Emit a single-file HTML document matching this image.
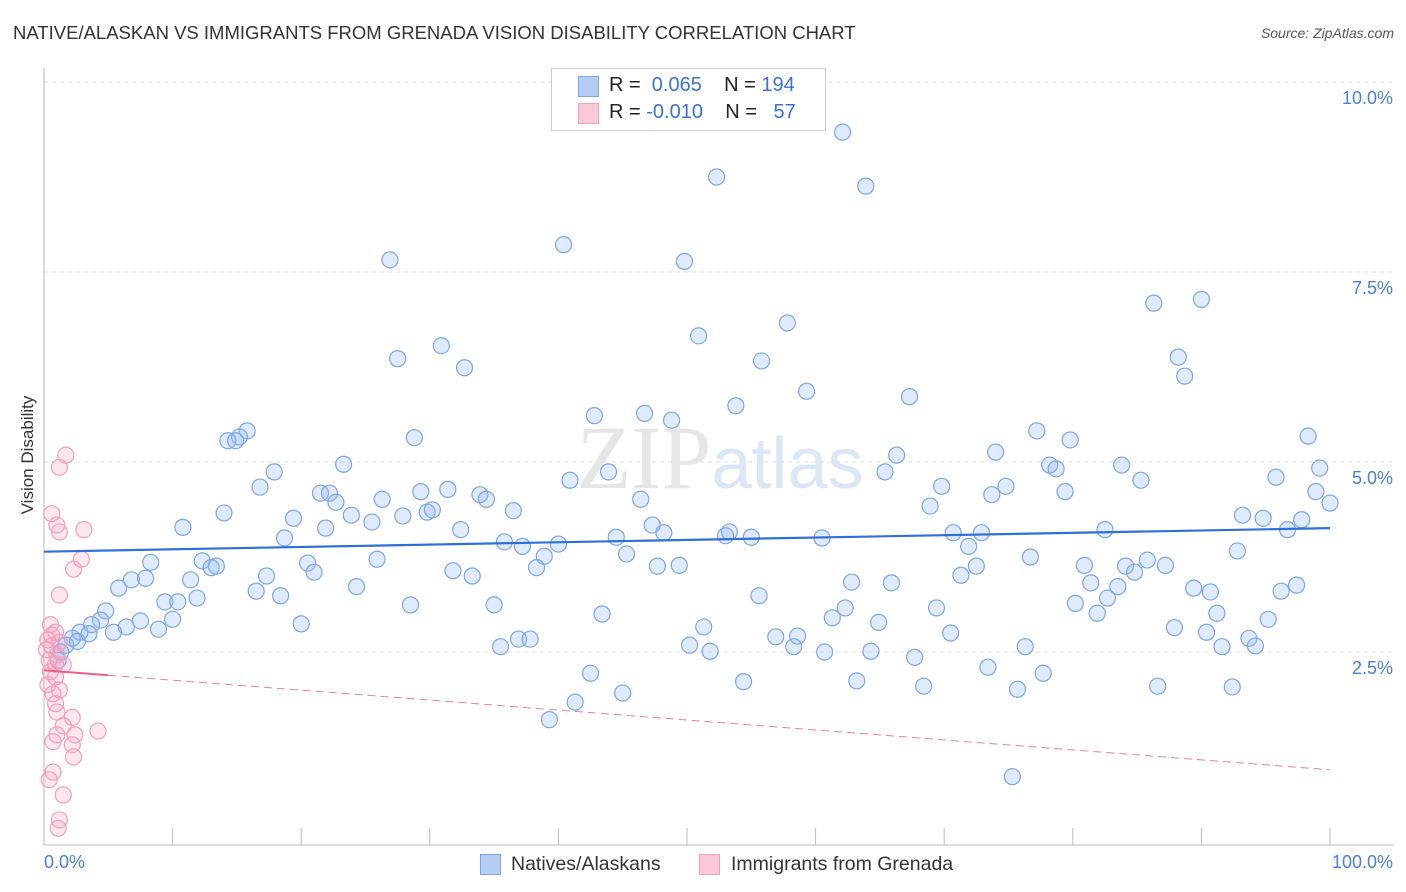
<!DOCTYPE html>
<html><head><meta charset="utf-8"><style>
body{margin:0;background:#fff;font-family:"Liberation Sans",sans-serif;}
#wrap{position:relative;width:1406px;height:892px;overflow:hidden;}
.t{position:absolute;white-space:nowrap;}
</style></head><body>
<div id="wrap">
<div class="t" style="left:13px;top:22px;font-size:18.5px;color:#333;">NATIVE/ALASKAN VS IMMIGRANTS FROM GRENADA VISION DISABILITY CORRELATION CHART</div>
<div class="t" style="right:12px;top:25px;font-size:14px;color:#555;font-style:italic;">Source: ZipAtlas.com</div>
<svg id="svg" width="1406" height="892" style="position:absolute;left:0;top:0"></svg>
<div class="t" style="left:551px;top:68px;width:273px;height:61px;border:1px solid #ccc;background:#fff;"></div>
<div class="t" style="left:578px;top:76px;width:19px;height:19px;background:#b3cdf5;border:1px solid #7fa6e0;"></div>
<div class="t" style="left:578px;top:103px;width:19px;height:19px;background:#fbc8d8;border:1px solid #f0a0bc;"></div>
<div class="t" style="left:609px;top:74px;font-size:20px;color:#222;">R = &nbsp;<span style="color:#3b72d0">0.065</span>&nbsp;&nbsp;&nbsp; N = <span style="color:#3b72d0">194</span></div>
<div class="t" style="left:609px;top:101px;font-size:20px;color:#222;">R = <span style="color:#3b72d0">-0.010</span>&nbsp;&nbsp;&nbsp; N = &nbsp;&nbsp;<span style="color:#3b72d0">57</span></div>
<div class="t" style="left:28px;top:455px;font-size:17px;color:#333;transform:translate(-50%,-50%) rotate(-90deg);">Vision Disability</div>
<div class="t" style="left:44px;top:852px;font-size:18px;color:#4a7fd6;">0.0%</div>
<div class="t" style="right:13px;top:852px;font-size:18px;color:#4a7fd6;">100.0%</div>
<div class="t" style="left:480px;top:854px;width:19px;height:19px;background:#b3cdf5;border:1px solid #7fa6e0;"></div>
<div class="t" style="left:511px;top:853px;font-size:19.5px;color:#333;">Natives/Alaskans</div>
<div class="t" style="left:699px;top:854px;width:19px;height:19px;background:#fbc8d8;border:1px solid #f0a0bc;"></div>
<div class="t" style="left:731px;top:853px;font-size:19.5px;color:#333;">Immigrants from Grenada</div>
</div>
<script>
const yTicks=[2.5,5.0,7.5,10.0];
const yTickLabels=["2.5%","5.0%","7.5%","10.0%"];
const blueX=[62.1,52.3,63.9,40.4,26.9,49.8,86.3,90.0,57.8,50.9,27.5,30.9,55.8,32.7,88.2,88.7,59.3,67.3,53.8,42.8,46.7,48.8,77.2,79.8,98.3,15.8,15.2,14.3,14.9,28.8,23.3,17.9,74.0,66.3,78.2,78.7,83.8,99.2,65.4,43.9,40.9,85.3,95.8,16.8,69.8,74.8,73.7,79.4,98.9,100.0,21.5,22.2,22.7,26.3,29.3,31.4,33.9,34.4,46.4,68.9,14.0,19.4,23.9,25.5,27.9,29.8,30.2,36.5,10.8,21.9,32.4,47.3,48.2,93.2,94.8,97.8,96.7,82.5,18.7,35.8,37.2,38.9,40.0,44.5,45.3,53.0,53.3,55.0,60.5,70.7,71.9,72.9,92.8,8.3,12.3,13.0,13.4,20.5,21.0,25.9,31.8,33.3,38.3,47.7,49.4,72.5,76.7,80.9,84.1,84.8,85.8,87.2,6.8,7.9,11.4,5.8,17.3,16.5,18.4,24.3,62.8,65.9,71.3,81.4,83.5,89.4,90.7,96.2,97.4,4.8,9.4,10.4,11.9,28.5,35.0,55.6,62.3,69.4,80.2,82.7,81.9,91.2,4.4,3.7,7.5,10.0,8.9,6.4,5.4,20.0,43.4,61.3,64.9,95.2,2.8,2.2,2.6,3.5,1.7,1.3,1.1,70.5,87.9,90.4,56.9,58.6,51.3,35.5,36.9,37.8,50.2,51.8,58.3,60.7,64.3,76.3,93.7,94.2,91.6,67.7,42.5,73.4,77.7,54.4,63.2,68.4,75.7,86.6,92.4,45.0,41.3,39.3,75.3];
const blueY=[9.34,8.75,8.63,7.86,7.66,7.64,7.09,7.14,6.83,6.66,6.36,6.53,6.33,6.24,6.38,6.13,5.93,5.86,5.74,5.61,5.64,5.55,5.41,5.29,5.34,5.41,5.33,5.28,5.28,5.32,4.97,4.87,5.13,5.09,4.96,4.91,4.96,4.92,4.87,4.87,4.76,4.76,4.80,4.67,4.68,4.68,4.57,4.61,4.61,4.46,4.59,4.59,4.47,4.51,4.61,4.64,4.57,4.51,4.51,4.42,4.33,4.26,4.30,4.21,4.29,4.34,4.37,4.36,4.14,4.13,4.11,4.17,4.07,4.30,4.26,4.24,4.11,4.11,4.00,3.95,3.89,3.76,3.92,4.01,3.79,4.03,4.08,4.01,4.00,4.07,3.89,4.07,3.83,3.68,3.70,3.61,3.63,3.67,3.55,3.72,3.57,3.50,3.61,3.63,3.64,3.63,3.75,3.64,3.63,3.55,3.71,3.64,3.45,3.47,3.45,3.34,3.50,3.30,3.24,3.36,3.42,3.41,3.51,3.41,3.36,3.34,3.29,3.30,3.38,3.04,3.16,3.16,3.21,3.12,3.12,3.24,3.08,3.08,3.14,3.21,3.01,3.01,2.92,2.86,2.91,2.93,2.80,2.83,2.76,2.87,3.00,2.95,2.89,2.93,2.76,2.68,2.64,2.74,2.59,2.50,2.39,2.75,2.82,2.76,2.70,2.71,2.83,2.57,2.67,2.67,2.59,2.51,2.57,2.50,2.51,2.57,2.68,2.58,2.57,2.43,2.22,2.30,2.22,2.11,2.12,2.05,2.01,2.05,2.04,1.96,1.84,1.61,0.86];
const pinkX=[1.7,1.2,0.6,1.0,1.2,3.1,2.9,2.3,1.2,0.5,0.9,0.3,0.6,1.0,0.4,0.9,1.5,0.5,0.9,0.3,1.2,0.7,0.9,1.0,2.2,1.5,1.0,2.4,4.2,0.7,2.2,2.3,0.7,0.4,1.5,1.2,1.1,0.6,1.2,0.2];
const pinkY=[5.09,4.93,4.32,4.17,4.08,4.11,3.72,3.59,3.25,2.86,2.76,2.66,2.58,2.46,2.39,2.34,2.33,2.24,2.17,2.07,2.00,1.95,1.82,1.71,1.64,1.53,1.41,1.41,1.46,1.32,1.28,1.12,0.92,0.82,0.62,0.29,0.18,2.72,2.63,2.53];
const blueTrend=[3.82,4.13];
const pinkTrend=[2.26,0.95];
const pinkSolidEnd=5;
const xs=v=>44+v*12.86, ys=v=>842-v*76;
const svg=document.getElementById('svg');const NS='http://www.w3.org/2000/svg';
function mk(t,a){const e=document.createElementNS(NS,t);for(const k in a)e.setAttribute(k,a[k]);svg.appendChild(e);return e;}
yTicks.forEach((t,i)=>{
 const g=mk('line',{x1:44,x2:1394,y1:ys(t),y2:ys(t),stroke:'#ddd','stroke-dasharray':'4,4'});
 
 
 const tx=mk('text',{x:1393,y:ys(t)+22,'text-anchor':'end','font-size':18,fill:'#4a7fd6','font-family':'Liberation Sans'});
 tx.textContent=yTickLabels[i];
 
 
});
const ax=mk('line',{x1:44,x2:44,y1:68,y2:845,stroke:'#bbb'});


const bx=mk('line',{x1:44,x2:1394,y1:845,y2:845,stroke:'#bbb'});


for(let i=1;i<=10;i++){const tk=mk('line',{x1:xs(i*10),x2:xs(i*10),y1:828,y2:845,stroke:'#bbb'});
 
 }
const wm=mk('text',{x:720,y:488,'text-anchor':'middle','font-size':90,fill:'#e6e6e6','font-family':'Liberation Serif'});
wm.innerHTML='ZIP<tspan fill="#dce6f5" font-family="Liberation Sans" font-size="72">atlas</tspan>';


blueX.forEach((x,i)=>{const c=mk('circle',{cx:xs(x),cy:ys(blueY[i]),r:8,fill:'rgba(150,185,240,0.3)',stroke:'#7fa6e0','stroke-width':1.2});
 
 });
pinkX.forEach((x,i)=>{const c=mk('circle',{cx:xs(x),cy:ys(pinkY[i]),r:8,fill:'rgba(245,160,190,0.25)',stroke:'#f0a0bc','stroke-width':1.2});
 
 });
const bt=mk('line',{x1:xs(0),y1:ys(blueTrend[0]),x2:xs(100),y2:ys(blueTrend[1]),stroke:'#2f6fd6','stroke-width':2.2});


const pv=x=>pinkTrend[0]+(pinkTrend[1]-pinkTrend[0])*x/100;
const ps=mk('line',{x1:xs(0),y1:ys(pv(0)),x2:xs(pinkSolidEnd),y2:ys(pv(pinkSolidEnd)),stroke:'#e8608a','stroke-width':2});


const pd=mk('line',{x1:xs(pinkSolidEnd),y1:ys(pv(pinkSolidEnd)),x2:xs(100),y2:ys(pv(100)),stroke:'#e8809f','stroke-width':1,'stroke-dasharray':'8,5'});


</script>
</body></html>
